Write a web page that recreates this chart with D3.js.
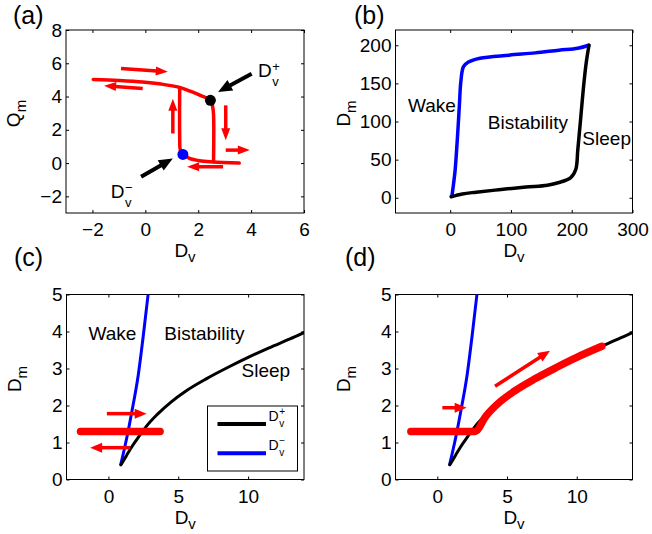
<!DOCTYPE html>
<html><head><meta charset="utf-8">
<script src="https://cdn.jsdelivr.net/npm/d3@7"></script>
<style>body{margin:0;background:#fff} svg{display:block} text{font-family:"Liberation Sans",Arial,Helvetica,sans-serif}</style>
</head><body><svg id="chart" width="652" height="534"></svg>
<script>
// ---------- Panel (a) data ----------
const aXTicks = [-2, 0, 2, 4, 6];
const aYTicks = [-2, 0, 2, 4, 6, 8];
const aUpper = [[-1.97,5.03],[-1,4.97],[-0.1,4.88],[0.6,4.75],[1.29,4.55],[1.7,4.32],[2.1,4.05],[2.46,3.77],[2.55,3.35],[2.58,2.9],[2.58,0.08]];
const aLower = [[1.42,0.52],[1.67,0.28],[2.05,0.14],[2.56,0.07],[3.55,0.0]];
const aJumpUp = [[1.42,0.52],[1.32,0.8],[1.3,1.5],[1.3,4.55]];
const aDots = [[2.46,3.77,"#000000"],[1.42,0.52,"#0000ff"]];
const aRedArrows = [[-0.92,5.69,0.85,5.49],[-0.1,4.49,-1.56,4.65],[1.04,1.78,1.04,3.87],[3.04,3.47,3.04,1.38],[3.04,0.78,3.95,0.78],[2.94,-0.22,1.58,-0.22]];
const aBlackArrows = [[4.02,5.37,2.75,4.27],[-0.16,-0.82,1.04,0.28]];
const aLabels = [[4.26,5.19,"+"],[-1.31,-2.12,"\u2212"]];

// ---------- Panel (b) data ----------
const bXTicks = [0, 100, 200, 300];
const bYTicks = [0, 50, 100, 150, 200];
const bBlue = [[2.8,2],[5,15],[8.2,37],[12,80],[15.3,124],[17.5,152],[21.9,172],[30,178],[49,183],[97,187],[140,190],[179,193.5],[210,196],[228,200]];
const bBlack = [[1.6,1.3],[20,5],[42.6,7.3],[80,10.5],[124.6,14],[160,16.5],[179,20],[198,26],[206.6,37],[210,63],[215,106.5],[220,150],[224,178],[228.4,200]];
const bTexts = [[-69.3,112.9,"Wake"],[61.8,89.8,"Bistability"],[217.5,69.2,"Sleep"]];

// ---------- Panels (c),(d) data ----------
const cdXTicks = [0, 5, 10];
const cdYTicks = [0, 1, 2, 3, 4, 5];
const cdBlue = [[0.88,0.4],[1.3,1.1],[1.66,1.8],[2.15,2.86],[2.5,3.9],[2.84,5]];
const cdBlack = [[0.9,0.4],[1.3,0.65],[1.7,0.9],[2.2,1.17],[2.7,1.43],[3.5,1.76],[4.5,2.1],[5.5,2.38],[7,2.72],[8.5,3.02],[10,3.3],[11.5,3.56],[13,3.8],[14,3.97]];
const cRedBar = [[-2.0,1.3],[3.7,1.3]];
const cRedArrows = [[-0.11,1.78,2.74,1.78],[1.55,0.86,-1.31,0.86]];
const cTexts = [[-1.43,3.76,"Wake"],[4.0,3.76,"Bistability"],[9.53,2.77,"Sleep"]];
const dRed = [[-1.9,1.3],[2.7,1.3],[3.5,1.72],[4.5,2.1],[5.5,2.38],[7,2.72],[8.5,3.02],[10,3.3],[11.8,3.6]];
const dRedArrows = [[0.36,1.94,2.1,1.94],[4.14,2.52,8.08,3.48]];
const legendItems = [["+","#000000"],["\u2212","#0000ff"]];

const svg = d3.select("#chart");
const FS = 19;

function panel(id, box, xd, yd, xt, yt, ylab, ysub, tag, tagPos) {
  const x = d3.scaleLinear().domain(xd).range([box.l, box.r]);
  const y = d3.scaleLinear().domain(yd).range([box.b, box.t]);
  const g = svg.append("g");
  svg.append("clipPath").attr("id", "clip" + id).append("rect")
    .attr("x", box.l).attr("y", box.t).attr("width", box.r - box.l).attr("height", box.b - box.t);
  const fmt = d3.format("");
  const styleAx = s => { s.select(".domain").remove(); s.attr("font-size", FS).attr("font-family", null); s.selectAll("line").attr("stroke", "#000"); s.selectAll("text").attr("fill", "#000"); };
  g.append("g").attr("transform", `translate(0,${box.b})`)
    .call(d3.axisBottom(x).tickValues(xt).tickSizeInner(-3).tickSizeOuter(0).tickPadding(10).tickFormat(fmt)).call(styleAx);
  g.append("g").attr("transform", `translate(0,${box.t})`)
    .call(d3.axisTop(x).tickValues(xt).tickSizeInner(-3).tickSizeOuter(0).tickFormat("")).call(styleAx);
  g.append("g").attr("transform", `translate(${box.l},0)`)
    .call(d3.axisLeft(y).tickValues(yt).tickSizeInner(-3).tickSizeOuter(0).tickPadding(4).tickFormat(fmt)).call(styleAx);
  g.append("g").attr("transform", `translate(${box.r},0)`)
    .call(d3.axisRight(y).tickValues(yt).tickSizeInner(-3).tickSizeOuter(0).tickFormat("")).call(styleAx);
  g.append("rect").attr("x", box.l).attr("y", box.t).attr("width", box.r - box.l).attr("height", box.b - box.t)
    .attr("fill", "none").attr("stroke", "#000").attr("stroke-width", 1);
  const xl = g.append("text").attr("x", (box.l + box.r) / 2).attr("y", box.b + 44).attr("text-anchor", "middle").attr("font-size", FS).text("D");
  xl.append("tspan").attr("font-size", 15).attr("dy", 5).text("v");
  const yl = g.append("text").attr("transform", `translate(${box.l - 46},${(box.t + box.b) / 2 - 8}) rotate(-90)`)
    .attr("text-anchor", "middle").attr("font-size", FS).text(ylab);
  yl.append("tspan").attr("font-size", 15).attr("dy", 6).text(ysub);
  svg.append("text").attr("x", tagPos[0]).attr("y", tagPos[1]).attr("font-size", 25).text(tag);
  const plot = svg.append("g").attr("clip-path", `url(#clip${id})`);
  return { x, y, g, plot };
}

// curve: "smooth" (Catmull-Rom, for paths with vertical parts), "mono" (x-monotone), "lin"
function path(p, data, color, w, kind) {
  const c = kind === "mono" ? d3.curveMonotoneX : kind === "lin" ? d3.curveLinear : d3.curveCatmullRom.alpha(0.5);
  const line = d3.line().x(d => p.x(d[0])).y(d => p.y(d[1])).curve(c);
  p.plot.append("path").attr("d", line(data)).attr("fill", "none").attr("stroke", color)
    .attr("stroke-width", w).attr("stroke-linejoin", "round").attr("stroke-linecap", "round");
}

function arrow(p, a, color, w, hl, hw) {
  const x1 = p.x(a[0]), y1 = p.y(a[1]), x2 = p.x(a[2]), y2 = p.y(a[3]);
  const dx = x2 - x1, dy = y2 - y1, L = Math.hypot(dx, dy), ux = dx / L, uy = dy / L;
  const bx = x2 - ux * hl, by = y2 - uy * hl;
  svg.append("line").attr("x1", x1).attr("y1", y1).attr("x2", bx + ux).attr("y2", by + uy)
    .attr("stroke", color).attr("stroke-width", w);
  svg.append("path").attr("d", `M${x2},${y2}L${bx - uy * hw / 2},${by + ux * hw / 2}L${bx + uy * hw / 2},${by - ux * hw / 2}Z`).attr("fill", color);
}

function dLabel(px, py, sup, fs, sfs, up, down) {
  const t = svg.append("text").attr("x", px).attr("y", py).attr("font-size", fs).text("D");
  const w = t.node().getComputedTextLength();
  svg.append("text").attr("x", px + w + 0.5).attr("y", py - up).attr("font-size", sfs).text(sup);
  svg.append("text").attr("x", px + w + 0.5).attr("y", py + down).attr("font-size", sfs).text("v");
}

// ---------- (a) ----------
const pa = panel("a", { l: 66, r: 304, t: 30, b: 213 }, [-3, 6], [-3, 8], aXTicks, aYTicks, "Q", "m", "(a)", [13, 24]);
path(pa, aUpper, "#ff0000", 3.5, "smooth");
path(pa, aLower, "#ff0000", 3.5, "smooth");
path(pa, aJumpUp, "#ff0000", 3.5, "smooth");
aRedArrows.forEach(a => arrow(pa, a, "#ff0000", 3.5, 12, 9));
aBlackArrows.forEach(a => arrow(pa, a, "#000000", 4, 14, 12));
aDots.forEach(d => pa.plot.append("circle").attr("cx", pa.x(d[0])).attr("cy", pa.y(d[1])).attr("r", 5.5).attr("fill", d[2]));
aLabels.forEach(l => dLabel(pa.x(l[0]), pa.y(l[1]), l[2], FS, 13, 6, 9));

// ---------- (b) ----------
const pb = panel("b", { l: 395.5, r: 632.5, t: 30, b: 213 }, [-90, 300], [-20, 220], bXTicks, bYTicks, "D", "m", "(b)", [354, 24]);
path(pb, bBlue, "#0000ff", 3.5, "smooth");
path(pb, bBlack, "#000000", 3.5, "smooth");
bTexts.forEach(t => svg.append("text").attr("x", pb.x(t[0])).attr("y", pb.y(t[1])).attr("font-size", FS).text(t[2]));

// ---------- (c) ----------
const pc = panel("c", { l: 66.5, r: 304, t: 294.5, b: 479.5 }, [-3, 14], [0, 5], cdXTicks, cdYTicks, "D", "m", "(c)", [14, 266]);
path(pc, cdBlue, "#0000ff", 3, "mono");
path(pc, cdBlack, "#000000", 3, "mono");
path(pc, cRedBar, "#ff0000", 7.5, "lin");
cRedArrows.forEach(a => arrow(pc, a, "#ff0000", 3.5, 12, 10));
cTexts.forEach(t => svg.append("text").attr("x", pc.x(t[0])).attr("y", pc.y(t[1])).attr("font-size", FS).text(t[2]));
const lgR = 304 - 6.5, lgB = 479.5 - 8.5, lgL = 207.5, lgT = 406;
svg.append("rect").attr("x", lgL).attr("y", lgT).attr("width", lgR - lgL).attr("height", lgB - lgT)
  .attr("fill", "#fff").attr("stroke", "#000").attr("stroke-width", 1);
legendItems.forEach((it, i) => {
  const ly = lgT + 18 + i * 29.3;
  svg.append("line").attr("x1", lgL + 10).attr("x2", lgL + 58.5).attr("y1", ly).attr("y2", ly)
    .attr("stroke", it[1]).attr("stroke-width", 4);
  dLabel(lgL + 61, ly - 3, it[0], 14, 10, 6, 6);
});

// ---------- (d) ----------
const pd = panel("d", { l: 395.5, r: 632.5, t: 294.5, b: 479.5 }, [-3, 14], [0, 5], cdXTicks, cdYTicks, "D", "m", "(d)", [345, 266]);
path(pd, cdBlue, "#0000ff", 3, "mono");
path(pd, cdBlack, "#000000", 3, "mono");
path(pd, dRed, "#ff0000", 7.5, "mono");
dRedArrows.forEach(a => arrow(pd, a, "#ff0000", 3.5, 12, 10));
</script></body></html>
